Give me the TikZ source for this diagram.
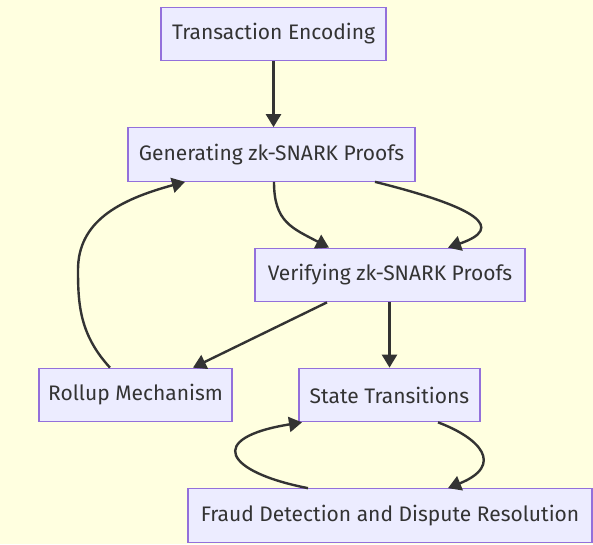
\documentclass[tikz,border=0pt]{standalone}
\usepackage{fontspec}
\setmainfont{Fira Sans}
\usetikzlibrary{arrows.meta}
\definecolor{bgyellow}{HTML}{FFFFE0}
\definecolor{boxfill}{HTML}{ECECFF}
\definecolor{boxline}{HTML}{9370DB}
\definecolor{inkgrey}{HTML}{333333}
\tikzset{
  flowbox/.style={draw=boxline, fill=boxfill, line width=1.2pt, minimum height=53.5pt,
    inner sep=0pt, text=inkgrey, font=\fontsize{21}{24}\selectfont},
  arr/.style={draw=inkgrey, line width=2.4pt,
    -{Triangle[length=13pt,width=15pt]}}
}
\begin{document}
\begin{tikzpicture}[x=1pt,y=-1pt]
  \fill[bgyellow] (0,0) rectangle (593,544);
  \useasboundingbox (0,0) rectangle (593,544);

  \node[flowbox, minimum width=225pt] (te)   at (273.5,34)  {Transaction Encoding};
  \node[flowbox, minimum width=287pt] (gen)  at (271.5,154.5) {Generating zk-SNARK Proofs};
  \node[flowbox, minimum width=270pt] (ver)  at (390,275)   {Verifying zk-SNARK Proofs};
  \node[flowbox, minimum width=193pt] (roll) at (135.5,395) {Rollup Mechanism};
  \node[flowbox, minimum width=181pt] (st)   at (389.5,395) {State Transitions};
  \node[flowbox, minimum width=404pt] (fr)   at (390,515.5) {Fraud Detection and Dispute Resolution};

  % straight links
  \draw[arr] (te.south) -- (gen.north -| te.south);
  \draw[arr] ([xshift=-63pt]ver.south) -- ([xshift=57.5pt]roll.north);
  \draw[arr] (ver.south -| st.south) -- (st.north);

  % proof generation to verification
  \draw[arr] ([xshift=2.5pt]gen.south) .. controls (274,222) and (292,228) .. ([xshift=-61pt]ver.north);
  \draw[arr] ([xshift=103.5pt]gen.south) .. controls (480,208) and (505,228) .. ([xshift=58pt]ver.north);

  % rollup feeds back into proof generation
  \draw[arr] ([xshift=-25.5pt]roll.north) .. controls (80,335) and (78,305) .. (78,270)
             .. controls (78,222) and (118,200) .. ([xshift=-86.5pt]gen.south);

  % state transitions and dispute loop
  \draw[arr] ([xshift=48.5pt]st.south) .. controls (480,438) and (505,465) .. ([xshift=58pt]fr.north);
  \draw[arr] ([xshift=-82pt]fr.north) .. controls (225,472) and (205,438) .. ([xshift=-87.5pt]st.south);
\end{tikzpicture}
\end{document}
